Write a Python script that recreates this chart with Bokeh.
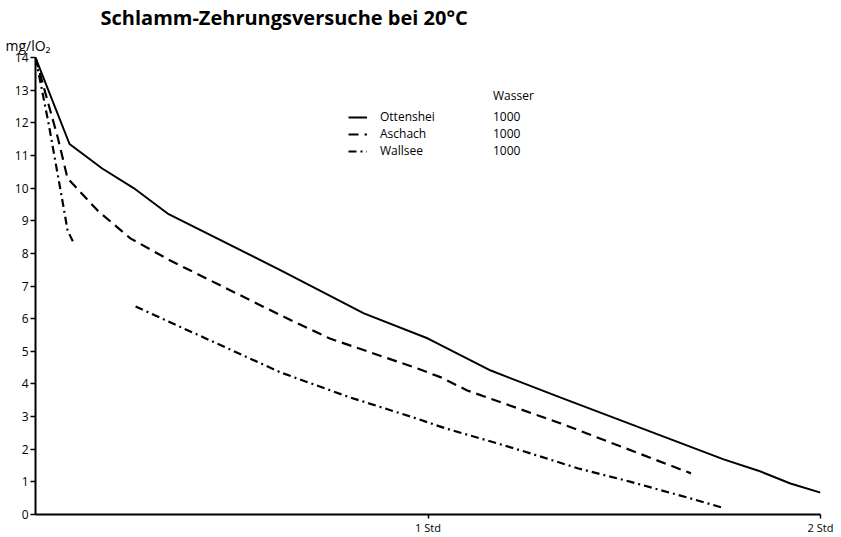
from bokeh.plotting import figure
from bokeh.models import Range1d, FixedTicker, Legend, LegendItem, Title
from bokeh.embed import file_html
from bokeh.resources import INLINE
import numpy as np

# time in minutes, oxygen in mg/l
ott_t = [0, 5.2, 10.2, 15, 20.2, 37.5, 50.2, 60, 69.6, 80.3, 105.2, 110.4, 115.4, 120]
ott_o2 = [14, 11.35, 10.6, 10.0, 9.22, 7.48, 6.16, 5.39, 4.41, 3.58, 1.69, 1.35, 0.95, 0.67]

asch_t = [0, 3.4, 4.9, 9.5, 14.5, 20.6, 37.5, 45, 58, 62, 66, 80.3, 100.2]
asch_o2 = [14, 11.55, 10.3, 9.31, 8.46, 7.78, 6.1, 5.39, 4.5, 4.2, 3.8, 2.79, 1.26]

wall1_t = [0, 2.0, 4.3, 4.9, 5.8]
wall1_o2 = [14, 11.98, 9.4, 8.7, 8.33]
wall2_t = [15.3, 37.5, 45.1, 48.2, 57.8, 62.8, 70.6, 75.7, 83, 91, 100, 105.2]
wall2_o2 = [6.37, 4.35, 3.8, 3.58, 2.97, 2.63, 2.18, 1.87, 1.41, 1.0, 0.5, 0.2]

names = ["Ottenshei", "Aschach", "Wallsee"]
wasser = ["1000", "1000", "1000"]
y_ticks = list(range(0, 15))
x_ticks = [60, 120]
x_labels = {60: "1 Std", 120: "2 Std"}

FONT = "Open Sans"

p = figure(width=841, height=537, output_backend="svg", toolbar_location=None,
           x_range=Range1d(0, 120), y_range=Range1d(0, 14),
           min_border_left=35, min_border_right=21, min_border_top=57, min_border_bottom=23)
p.outline_line_color = None
p.xgrid.visible = False
p.ygrid.visible = False

wall_t = wall1_t + [np.nan] + wall2_t
wall_o2 = wall1_o2 + [np.nan] + wall2_o2

r1 = p.line(ott_t, ott_o2, line_color="black", line_width=2)
r2 = p.line(asch_t, asch_o2, line_color="black", line_width=2.2, line_dash="10 6")
r3 = p.line(wall_t, wall_o2, line_color="black", line_width=2.2, line_dash="8 4 2 4")

for ax in (p.xaxis[0], p.yaxis[0]):
    ax.axis_line_width = 2
    ax.axis_line_color = "black"
    ax.major_tick_line_color = "black"
    ax.major_tick_line_width = 1.5
    ax.major_tick_in = 0
    ax.minor_tick_line_color = None
    ax.major_label_text_font = FONT
    ax.major_label_text_color = "black"

p.yaxis.ticker = FixedTicker(ticks=y_ticks)
p.yaxis.major_tick_out = 5
p.yaxis.major_label_standoff = 2
p.yaxis.major_label_text_font_size = "12px"

p.xaxis.ticker = FixedTicker(ticks=x_ticks)
p.xaxis.major_label_overrides = x_labels
p.xaxis.major_tick_out = 4
p.xaxis.major_label_standoff = 1
p.xaxis.major_label_text_font_size = "11px"

common = dict(orientation="vertical", label_text_font=FONT, label_text_font_size="12px",
              label_text_color="black",
              title_text_font=FONT, title_text_font_size="12px", title_text_font_style="normal",
              title_text_color="black",
              title_standoff=4, glyph_height=14, label_height=14, spacing=0, padding=0, margin=0,
              border_line_color=None, background_fill_alpha=0)

legend = Legend(items=[LegendItem(label=n, renderers=[r]) for n, r in zip(names, [r1, r2, r3])],
                location=(313, 355), title=" ", glyph_width=19, label_standoff=13, **common)
p.add_layout(legend)

legend2 = Legend(items=[LegendItem(label=w, renderers=[r1]) for w in wasser],
                 location=(458, 355), title="Wasser", glyph_width=0, label_standoff=0, **common)
p.add_layout(legend2)

# y-axis unit above the axis, and the main title above it
p.add_layout(Title(text="mg/lO₂", align="left", offset=-30, standoff=5,
                   text_font=FONT, text_font_size="14px", text_font_style="normal",
                   text_color="black"), "above")
p.title.text = "Schlamm-Zehrungsversuche bei 20°C"
p.title.align = "left"
p.title.offset = 65
p.title.standoff = 2
p.title.text_font = FONT
p.title.text_font_size = "20px"
p.title.text_font_style = "bold"
p.title.text_color = "black"

open("out.html", "w").write(file_html(p, INLINE))
